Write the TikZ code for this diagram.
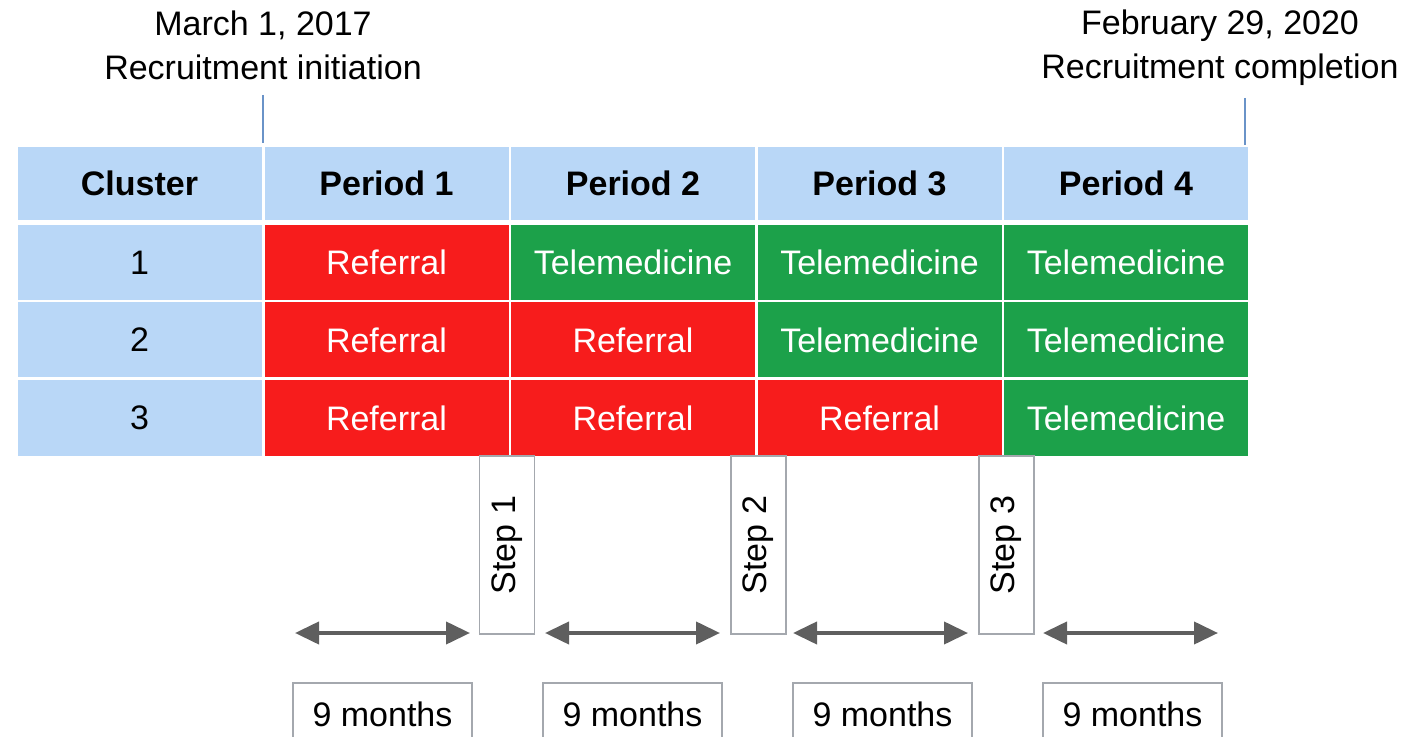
\documentclass[tikz,border=0pt]{standalone}
\usepackage{fontspec}
\setmainfont{Liberation Sans}
\usetikzlibrary{arrows.meta}

\definecolor{headblue}{HTML}{B9D7F7}
\definecolor{refred}{HTML}{F71C1C}
\definecolor{telegreen}{HTML}{1CA14A}
\definecolor{arrowgray}{HTML}{5F5F5F}
\definecolor{boxgray}{HTML}{A4A8AE}
\definecolor{tickblue}{HTML}{6A93C8}

\tikzset{
  cell/.style={inner sep=0pt, minimum width=122pt, minimum height=37.5pt,
    font=\fontsize{17}{20}\selectfont},
  head/.style={cell, fill=headblue, minimum height=36.5pt,
    font=\fontsize{17}{20}\selectfont\bfseries},
  clus/.style={cell, fill=headblue},
  referral/.style={cell, fill=refred, text=white},
  tele/.style={cell, fill=telegreen, text=white},
  stepbox/.style={draw=boxgray, line width=0.6pt, rotate=90, inner sep=0pt,
    minimum width=89pt, minimum height=27.5pt, font=\fontsize{17}{20}\selectfont},
  monthbox/.style={draw=boxgray, line width=0.6pt, inner sep=0pt,
    minimum width=89.5pt, minimum height=31pt, font=\fontsize{17}{20}\selectfont},
  datelabel/.style={align=center, font=\fontsize{17}{22}\selectfont},
  interval/.style={{Triangle[length=12pt,width=11pt]}-{Triangle[length=12pt,width=11pt]},
    line width=2pt, draw=arrowgray},
  tick/.style={draw=tickblue, line width=0.8pt}
}

\begin{document}
\begin{tikzpicture}[x=0.5pt, y=-0.5pt]
  \useasboundingbox (0,0) rectangle (1407,737);

  % recruitment dates
  \node[datelabel] (start) at (263,45) {March 1, 2017\\Recruitment initiation};
  \node[datelabel] (end) at (1220,48) {February 29, 2020\\Recruitment completion};
  \coordinate (start top) at (263,95);
  \coordinate (start bot) at (263,143);
  \coordinate (end top) at (1245,98);
  \coordinate (end bot) at (1245,145);
  \draw[tick] (start top) -- (start bot);
  \draw[tick] (end top) -- (end bot);

  % header row
  \node[head] (h0) at (139.5,183.5) {Cluster};
  \node[head] (h1) at (386.5,183.5) {Period 1};
  \node[head] (h2) at (633,183.5) {Period 2};
  \node[head] (h3) at (879.5,183.5) {Period 3};
  \node[head] (h4) at (1126,183.5) {Period 4};

  % cluster 1
  \node[clus] (c1) at (139.5,262.5) {1};
  \node[referral] (c1p1) at (386.5,262.5) {Referral};
  \node[tele] (c1p2) at (633,262.5) {Telemedicine};
  \node[tele] (c1p3) at (879.5,262.5) {Telemedicine};
  \node[tele] (c1p4) at (1126,262.5) {Telemedicine};

  % cluster 2
  \node[clus] (c2) at (139.5,340) {2};
  \node[referral] (c2p1) at (386.5,340) {Referral};
  \node[referral] (c2p2) at (633,340) {Referral};
  \node[tele] (c2p3) at (879.5,340) {Telemedicine};
  \node[tele] (c2p4) at (1126,340) {Telemedicine};

  % cluster 3
  \node[clus] (c3) at (139.5,418) {3};
  \node[referral] (c3p1) at (386.5,418) {Referral};
  \node[referral] (c3p2) at (633,418) {Referral};
  \node[referral] (c3p3) at (879.5,418) {Referral};
  \node[tele] (c3p4) at (1126,418) {Telemedicine};

  % steps
  \node[stepbox] (s1) at (507,545) {Step 1};
  \node[stepbox] (s2) at (758.5,545) {Step 2};
  \node[stepbox] (s3) at (1006.5,545) {Step 3};

  % 9-month intervals
  \coordinate (a1l) at (295,633); \coordinate (a1r) at (470,633);
  \coordinate (a2l) at (545,633); \coordinate (a2r) at (720,633);
  \coordinate (a3l) at (793,633); \coordinate (a3r) at (968,633);
  \coordinate (a4l) at (1043,633); \coordinate (a4r) at (1218,633);
  \draw[interval] (a1l) -- (a1r);
  \draw[interval] (a2l) -- (a2r);
  \draw[interval] (a3l) -- (a3r);
  \draw[interval] (a4l) -- (a4r);

  \node[monthbox] (m1) at (382.5,714) {9 months};
  \node[monthbox] (m2) at (632.5,714) {9 months};
  \node[monthbox] (m3) at (882.5,714) {9 months};
  \node[monthbox] (m4) at (1132.5,714) {9 months};
\end{tikzpicture}
\end{document}
